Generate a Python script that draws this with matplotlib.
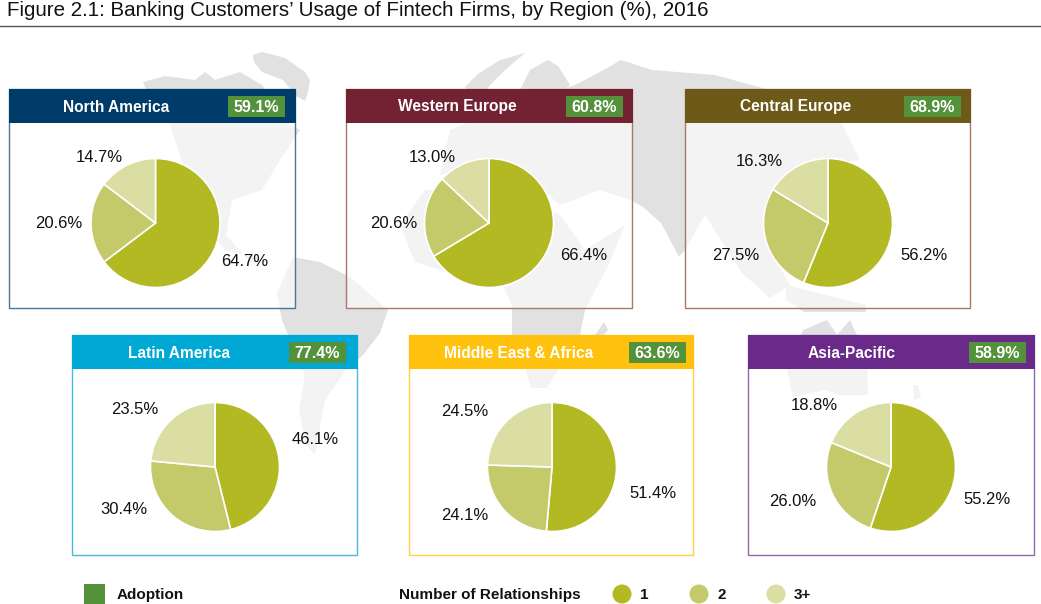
import matplotlib
matplotlib.use("Agg")
import matplotlib.pyplot as plt
from matplotlib.patches import Rectangle, Polygon, Circle

plt.rcParams["font.family"] = ["Liberation Sans", "DejaVu Sans"]

W, H = 1041, 604

# data
regions = ["North America", "Western Europe", "Central Europe",
           "Latin America", "Middle East & Africa", "Asia-Pacific"]
adoption = [59.1, 60.8, 68.9, 77.4, 63.6, 58.9]
one_rel = [64.7, 66.4, 56.2, 46.1, 51.4, 55.2]
two_rel = [20.6, 20.6, 27.5, 30.4, 24.1, 26.0]
three_rel = [14.7, 13.0, 16.3, 23.5, 24.5, 18.8]
legend_groups = ["1", "2", "3+"]

# styles
header_colors = ["#003c69", "#722231", "#6d5a19", "#00a8d6", "#ffc20e", "#6a2a89"]
border_colors = ["#44779b", "#a67a6c", "#a67a5c", "#4cb8dc", "#ffd044", "#9566ae"]
pie_colors = ["#b2b922", "#c4ca6a", "#dbdea3"]
green = "#53913a"
map_gray = "#e0e1e0"

# panel left, top, right, bottom in pixels
panels = [(9, 89, 295, 308), (346, 89, 632, 308), (685, 89, 970, 308),
          (72, 335, 357, 555), (409, 335, 693, 555), (748, 335, 1034, 555)]
header_x = [116.5, 457, 795.5, 179.5, 519, 852]
badge_x = [228, 565.5, 904, 289, 629, 969]
pie_centers = [(155.5, 223), (489, 223), (828, 223),
               (215, 467), (552, 467), (891, 467)]
pie_r = 64.5
# where the labels sit: 1, 2, 3+
label_xy = [[(245, 261), (59, 223), (99, 157)],
            [(584, 256), (394, 223), (432, 158)],
            [(924, 256), (736, 256), (759, 162)],
            [(315, 439), (124, 510), (135, 409)],
            [(653, 493), (465, 516), (465, 411)],
            [(987, 500), (793, 501), (814, 405)]]

# rough world map behind the panels
world_map = [
    # greenland
    [(253, 55), (262, 52), (285, 58), (305, 72), (310, 80), (308, 92), (305, 101),
     (296, 96), (283, 80), (262, 72), (254, 62)],
    # north america
    [(143, 82), (165, 76), (195, 80), (205, 72), (215, 80), (240, 72), (262, 85),
     (290, 125), (300, 130), (280, 160), (262, 190), (232, 200), (226, 235),
     (250, 262), (275, 262), (225, 250), (205, 225), (185, 170), (170, 125), (150, 100)],
    # south america
    [(293, 257), (320, 262), (350, 277), (388, 310), (380, 333), (363, 355), (346, 370),
     (325, 400), (315, 455), (306, 445), (299, 410), (305, 375), (300, 365), (282, 320),
     (277, 293)],
    # africa
    [(400, 225), (425, 190), (475, 188), (520, 200), (560, 215), (585, 250), (625, 225),
     (610, 262), (585, 310), (579, 340), (558, 370), (547, 388), (531, 388), (523, 360),
     (512, 335), (512, 305), (500, 280), (455, 275), (415, 262)],
    # madagascar
    [(604, 322), (608, 330), (599, 340), (595, 335)],
    # scandinavia
    [(465, 87), (478, 74), (500, 60), (525, 53), (505, 70), (490, 85), (480, 100), (470, 100)],
    [(520, 90), (530, 70), (548, 60), (558, 66), (570, 85), (555, 100), (525, 100)],
    # eurasia
    [(575, 85), (600, 72), (621, 60), (652, 70), (715, 75), (770, 90), (840, 120),
     (860, 160), (815, 165), (790, 175), (800, 215), (770, 250), (790, 285), (770, 298),
     (742, 273), (705, 215), (685, 250), (679, 257), (661, 223), (643, 207), (630, 200),
     (600, 190), (560, 205), (520, 170), (480, 165), (440, 175), (450, 130), (500, 110)],
    # indonesia
    [(786, 285), (866, 305), (866, 312), (804, 312), (786, 300)],
    # australia
    [(803, 330), (827, 320), (837, 335), (850, 320), (857, 335), (867, 365), (868, 395),
     (840, 395), (825, 390), (793, 397), (787, 370)],
    [(913, 385), (918, 385), (921, 398), (914, 400)],
]

fig = plt.figure(figsize=(W / 100, H / 100), dpi=100)
ax = fig.add_axes([0, 0, 1, 1])
ax.set_xlim(0, W)
ax.set_ylim(H, 0)
ax.axis("off")

for shape in world_map:
    ax.add_patch(Polygon(shape, closed=True, fc=map_gray, ec="none", zorder=1))

ax.text(7, 10, "Figure 2.1: Banking Customers\u2019 Usage of Fintech Firms, by Region (%), 2016",
        fontsize=14.75, color="#111111", va="center", ha="left")
ax.plot([0, W], [26, 26], color="#555555", lw=1, zorder=2)

for i, region in enumerate(regions):
    l, t, r, b = panels[i]
    ax.add_patch(Rectangle((l, t), r - l, b - t, fc="white", ec="none", alpha=0.62, zorder=2))
    ax.add_patch(Rectangle((l, t), r - l, b - t, fc="none", ec=border_colors[i], lw=1, zorder=3))
    ax.add_patch(Rectangle((l, t), r - l + 0.5, 34, fc=header_colors[i], ec="none", zorder=4))
    ax.add_patch(Rectangle((badge_x[i], t + 7), 57, 21, fc=green, ec="none", zorder=5))
    ax.text(badge_x[i] + 28.5, t + 18, f"{adoption[i]:.1f}%", color="white", fontsize=11.5,
            fontweight="bold", ha="center", va="center", zorder=6)
    ax.text(header_x[i], t + 18, region, color="white", fontsize=11.2,
            fontweight="bold", ha="center", va="center", zorder=6)

    cx, cy = pie_centers[i]
    pie_ax = fig.add_axes([(cx - pie_r - 2) / W, 1 - (cy + pie_r + 2) / H,
                           (2 * pie_r + 4) / W, (2 * pie_r + 4) / H])
    vals = [one_rel[i], two_rel[i], three_rel[i]]
    pie_ax.pie(vals, colors=pie_colors, startangle=90, counterclock=False, radius=pie_r,
               wedgeprops={"edgecolor": "white", "linewidth": 1.2})
    pie_ax.set_xlim(-pie_r - 2, pie_r + 2)
    pie_ax.set_ylim(-pie_r - 2, pie_r + 2)
    pie_ax.patch.set_alpha(0)

    for v, (x, y) in zip(vals, label_xy[i]):
        ax.text(x, y, f"{v:.1f}%", fontsize=12, color="#111111", ha="center", va="center", zorder=6)

# legend
ax.add_patch(Rectangle((84, 584), 21, 20, fc=green, ec="none", zorder=3))
ax.text(117, 595, "Adoption", fontsize=11, color="#111111", va="center", ha="left", fontweight="bold")
ax.text(399, 595, "Number of Relationships", fontsize=11, color="#111111", va="center",
        ha="left", fontweight="bold")
for x, name, col in zip([622, 699, 776], legend_groups, pie_colors):
    ax.add_patch(Circle((x, 594), 9.5, fc=col, ec="none", zorder=3))
    ax.text(x + 18, 595, name, fontsize=11, color="#111111", va="center", ha="left", fontweight="bold")

fig.savefig("out.png", dpi=100)
